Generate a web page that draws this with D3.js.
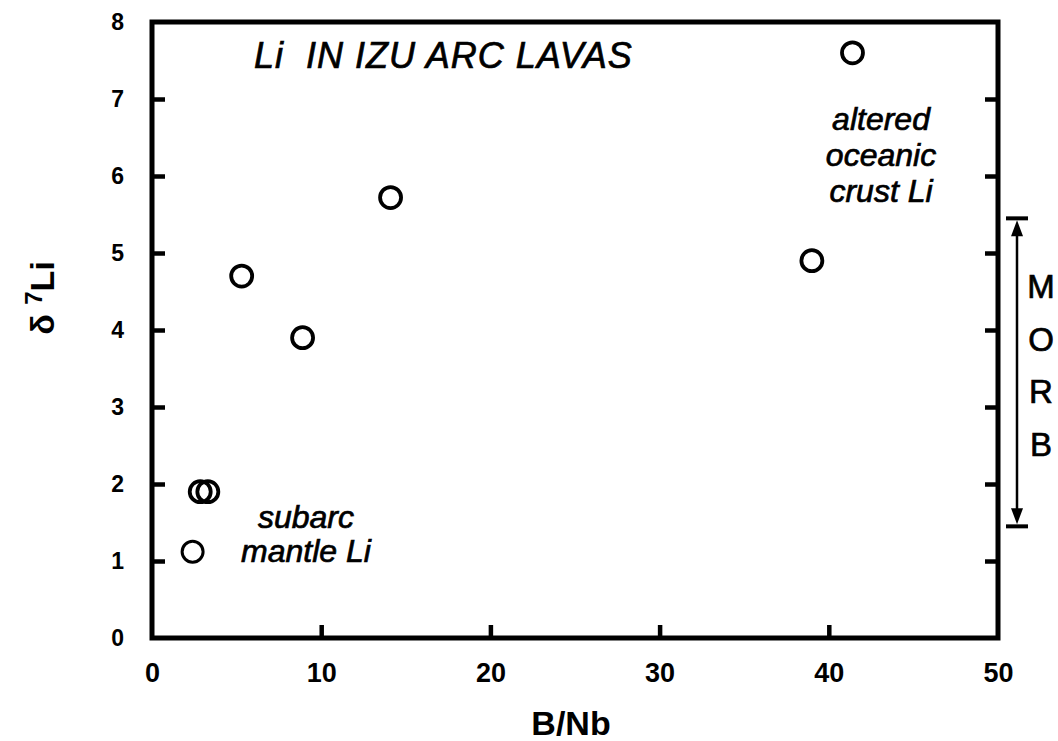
<!DOCTYPE html>
<html>
<head>
<meta charset="utf-8">
<script src="https://cdn.jsdelivr.net/npm/d3@7"></script>
<style>
  body { margin: 0; background: #fff; }
  text { font-family: "Liberation Sans", Arial, sans-serif; fill: #000; }
  .heavy { stroke: #000; stroke-width: 0.7px; }
</style>
</head>
<body>
<script>
(function all (){
  //data
  var bNb   = [2.4, 2.85, 3.3, 5.3, 8.9, 14.1, 39.0, 41.4];
  var d7Li  = [1.12, 1.9, 1.9, 4.7, 3.9, 5.72, 4.9, 7.6];
  var xTicks = [0, 10, 20, 30, 40, 50];
  var yTicks = [0, 1, 2, 3, 4, 5, 6, 7, 8];
  var morbRange = [1.45, 5.45];
  var morbLetters = ["M", "O", "R", "B"];

  var width = 1058, height = 741;
  var left = 152, right = 998, top = 22, bottom = 638;

  var svg = d3.select("body").append("svg")
    .attr("width", width)
    .attr("height", height);

  var x = d3.scaleLinear().domain([0, 50]).range([left, right]);
  var y = d3.scaleLinear().domain([0, 8]).range([bottom, top]);

  //frame
  svg.append("rect")
    .attr("x", left).attr("y", top)
    .attr("width", right - left).attr("height", bottom - top)
    .attr("fill", "none").attr("stroke", "#000").attr("stroke-width", 5);

  //axes with inward ticks
  var xAxis = svg.append("g")
    .attr("transform", "translate(0," + bottom + ")")
    .call(d3.axisBottom(x).tickValues(xTicks).tickSizeInner(-13).tickSizeOuter(0).tickPadding(25));
  var yAxis = svg.append("g")
    .attr("transform", "translate(" + left + ",0)")
    .call(d3.axisLeft(y).tickValues(yTicks).tickSizeInner(-13).tickSizeOuter(0).tickPadding(28));
  var yRight = svg.append("g")
    .attr("transform", "translate(" + right + ",0)")
    .call(d3.axisRight(y).tickValues(yTicks.slice(1, 8)).tickSizeInner(-13).tickSizeOuter(0).tickFormat(""));

  [xAxis, yAxis, yRight].forEach(function(g){
    g.select(".domain").remove();
    g.selectAll(".tick line").attr("stroke", "#000").attr("stroke-width", 4.5);
    g.selectAll(".tick text").style("font-weight", "bold");
  });
  xAxis.selectAll(".tick text").style("font-size", "27px");
  yAxis.selectAll(".tick text").style("font-size", "23px");
  //drop end ticks that would sit on the frame
  xAxis.selectAll(".tick line").filter(function(d){ return d === 0 || d === 50; }).remove();
  yAxis.selectAll(".tick line").filter(function(d){ return d === 0 || d === 8; }).remove();

  //points
  svg.append("g").selectAll("circle")
    .data(bNb)
    .enter()
    .append("circle")
    .attr("cx", function(d){ return x(d); })
    .attr("cy", function(d, i){ return y(d7Li[i]); })
    .attr("r", 10.5)
    .attr("fill", "none")
    .attr("stroke", "#000")
    .attr("stroke-width", function(d, i){ return i === 0 ? 3 : 3.8; });

  //annotations
  svg.append("text")
    .attr("class", "heavy")
    .attr("x", 254).attr("y", 68)
    .style("font-size", "36px").style("font-style", "italic")
    .style("letter-spacing", "1px")
    .attr("xml:space", "preserve")
    .text("Li  IN IZU ARC LAVAS");

  var sub = ["subarc", "mantle Li"];
  svg.append("g").selectAll("text").data(sub).enter().append("text")
    .attr("class", "heavy")
    .attr("x", 306).attr("y", function(d, i){ return 528 + i * 34; })
    .attr("text-anchor", "middle")
    .style("font-size", "32px").style("font-style", "italic")
    .text(function(d){ return d; });

  var aoc = ["altered", "oceanic", "crust Li"];
  svg.append("g").selectAll("text").data(aoc).enter().append("text")
    .attr("class", "heavy")
    .attr("x", 881).attr("y", function(d, i){ return 130 + i * 36; })
    .attr("text-anchor", "middle")
    .style("font-size", "32px").style("font-style", "italic")
    .text(function(d){ return d; });

  //MORB range bar
  var mx = 1017;
  var morb = svg.append("g");
  morb.append("line")
    .attr("x1", mx).attr("x2", mx)
    .attr("y1", y(morbRange[0]) - 14).attr("y2", y(morbRange[1]) + 14)
    .attr("stroke", "#000").attr("stroke-width", 2.5);
  morbRange.forEach(function(v){
    morb.append("line")
      .attr("x1", mx - 11).attr("x2", mx + 11)
      .attr("y1", y(v)).attr("y2", y(v))
      .attr("stroke", "#000").attr("stroke-width", 4);
  });
  var yt = y(morbRange[1]), yb = y(morbRange[0]);
  morb.append("path")
    .attr("d", "M" + mx + "," + (yt + 2) + "L" + (mx - 6) + "," + (yt + 18) + "L" + (mx + 6) + "," + (yt + 18) + "Z")
    .attr("fill", "#000");
  morb.append("path")
    .attr("d", "M" + mx + "," + (yb - 2) + "L" + (mx - 6) + "," + (yb - 18) + "L" + (mx + 6) + "," + (yb - 18) + "Z")
    .attr("fill", "#000");
  morb.selectAll("text").data(morbLetters).enter().append("text")
    .attr("class", "heavy")
    .attr("x", 1041).attr("y", function(d, i){ return 298 + i * 52.7; })
    .attr("text-anchor", "middle")
    .style("font-size", "33px")
    .text(function(d){ return d; });

  //axis titles
  svg.append("text")
    .attr("x", 571).attr("y", 735)
    .attr("text-anchor", "middle")
    .style("font-size", "34px").style("font-weight", "bold")
    .text("B/Nb");

  var yl = svg.append("text")
    .attr("transform", "translate(54,298) rotate(-90)")
    .attr("text-anchor", "middle")
    .style("font-size", "34px").style("font-weight", "bold");
  yl.append("tspan").text("δ ");
  yl.append("tspan").attr("dy", -12).style("font-size", "24px").text("7");
  yl.append("tspan").attr("dy", 12).text("Li");
})();
</script>
</body>
</html>
